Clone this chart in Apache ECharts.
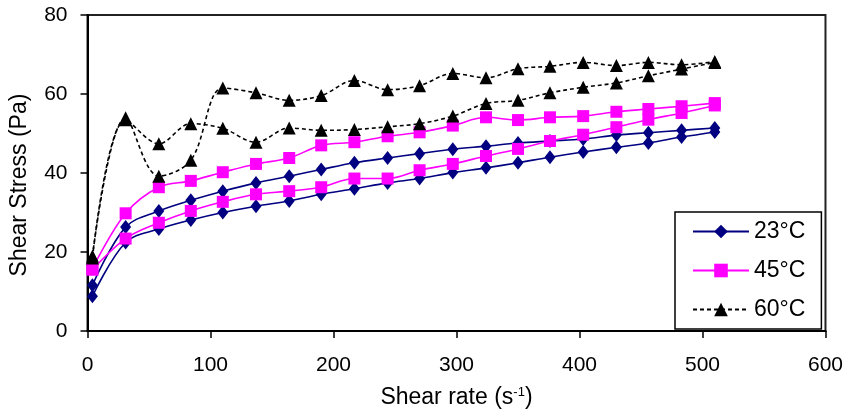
<!DOCTYPE html>
<html>
<head>
<meta charset="utf-8">
<script src="https://cdn.jsdelivr.net/npm/echarts@6/dist/echarts.min.js"></script>
<style>html,body{margin:0;padding:0;background:#fff}#c{width:846px;height:414px}</style>
</head>
<body>
<div id="c"></div>
<script>
// Shear rate (s^-1)
const shearRate = [4, 31, 58, 84, 110, 137, 164, 190, 217, 244, 270, 297, 324, 350, 376, 403, 430, 456, 483, 510];
// Shear stress (Pa) - two branches per temperature
const t23a = [11.6, 26.3, 30.4, 33.1, 35.4, 37.5, 39.2, 40.9, 42.6, 43.8, 44.9, 46.0, 46.8, 47.6, 48.1, 48.6, 49.6, 50.2, 50.8, 51.4];
const t23b = [8.8, 22.4, 25.8, 28.1, 30.0, 31.6, 32.9, 34.6, 36.0, 37.5, 38.6, 40.1, 41.3, 42.6, 44.0, 45.3, 46.5, 47.6, 49.1, 50.4];
const t45a = [15.8, 29.8, 36.4, 38.0, 40.2, 42.3, 43.8, 47.0, 47.8, 49.3, 50.3, 52.0, 54.1, 53.4, 54.1, 54.4, 55.5, 56.2, 56.9, 57.7];
const t45b = [15.5, 23.4, 27.4, 30.4, 32.7, 34.6, 35.4, 36.4, 38.6, 38.6, 40.7, 42.3, 44.3, 46.1, 48.1, 49.7, 51.6, 53.5, 55.2, 57.1];
const t60a = [19.0, 54.0, 39.2, 43.2, 61.5, 60.3, 58.4, 59.6, 63.4, 61.1, 62.1, 65.2, 64.1, 66.4, 67.0, 68.0, 67.2, 68.0, 67.4, 68.2];
const t60b = [18.5, 53.5, 47.4, 52.5, 51.3, 47.8, 51.4, 50.8, 51.0, 51.7, 52.5, 54.4, 57.6, 58.4, 60.3, 61.7, 62.8, 64.6, 66.3, 68.0];
const legendNames = ['23°C', '45°C', '60°C'];
const xTicks = {min: 0, max: 600, interval: 100};
const yTicks = {min: 0, max: 80, interval: 20};

const pair = ys => ys.map((y, i) => [shearRate[i], y]);
const FONT = 'Liberation Sans, Arial, sans-serif';

function mk(name, ys, color, symbol, size, dashed) {
  return {
    name, type: 'line', data: pair(ys), smooth: 0.35,
    symbol, symbolSize: size, showSymbol: true,
    lineStyle: {color, width: 1.6, type: dashed ? [4, 3] : 'solid'},
    itemStyle: {color, borderWidth: 0},
    emphasis: {disabled: true}
  };
}

const chart = echarts.init(document.getElementById('c'), null, {renderer: 'canvas'});
chart.setOption({
  animation: false,
  backgroundColor: '#fff',
  grid: {left: 87.5, right: 20, top: 15, bottom: 82, show: true, borderColor: '#222', borderWidth: 2, backgroundColor: 'transparent'},
  xAxis: {
    type: 'value', min: xTicks.min, max: xTicks.max, interval: xTicks.interval,
    name: 'Shear rate (s{sup|-1})', nameLocation: 'middle', nameGap: 55,
    nameTextStyle: {fontFamily: FONT, fontSize: 23, color: '#000',
      rich: {sup: {fontFamily: FONT, fontSize: 13, color: '#000', verticalAlign: 'top', padding: [0, 0, 8, 0]}}},
    axisLine: {show: true, lineStyle: {color: '#000', width: 2}},
    axisTick: {show: true, inside: false, length: 7, lineStyle: {color: '#000', width: 1.5}},
    axisLabel: {fontFamily: FONT, fontSize: 21, color: '#000', margin: 24},
    splitLine: {show: false}
  },
  yAxis: {
    type: 'value', min: yTicks.min, max: yTicks.max, interval: yTicks.interval,
    name: 'Shear Stress (Pa)', nameLocation: 'middle', nameGap: 56,
    nameTextStyle: {fontFamily: FONT, fontSize: 23, color: '#000', padding: [0, 24, 0, 0]},
    axisLine: {show: true, lineStyle: {color: '#000', width: 2}},
    axisTick: {show: true, inside: false, length: 7, lineStyle: {color: '#000', width: 1.5}},
    axisLabel: {fontFamily: FONT, fontSize: 21, color: '#000', margin: 20},
    splitLine: {show: false}
  },
  legend: {
    data: legendNames, orient: 'vertical', left: 675, top: 212,
    padding: [8, 16, 8, 17], itemGap: 16, itemWidth: 56, itemHeight: 17,
    backgroundColor: '#fff', borderColor: '#000', borderWidth: 1.5, borderRadius: 0,
    textStyle: {fontFamily: FONT, fontSize: 23, color: '#000', lineHeight: 23},
    selectedMode: false
  },
  series: [
    mk(legendNames[0], t23a, '#000080', 'diamond', [11, 14], false),
    mk(legendNames[0], t23b, '#000080', 'diamond', [11, 14], false),
    mk(legendNames[1], t45a, '#FF00FF', 'rect', 12, false),
    mk(legendNames[1], t45b, '#FF00FF', 'rect', 12, false),
    mk(legendNames[2], t60a, '#000000', 'triangle', 13, true),
    mk(legendNames[2], t60b, '#000000', 'triangle', 13, true)
  ]
});
</script>
</body>
</html>
